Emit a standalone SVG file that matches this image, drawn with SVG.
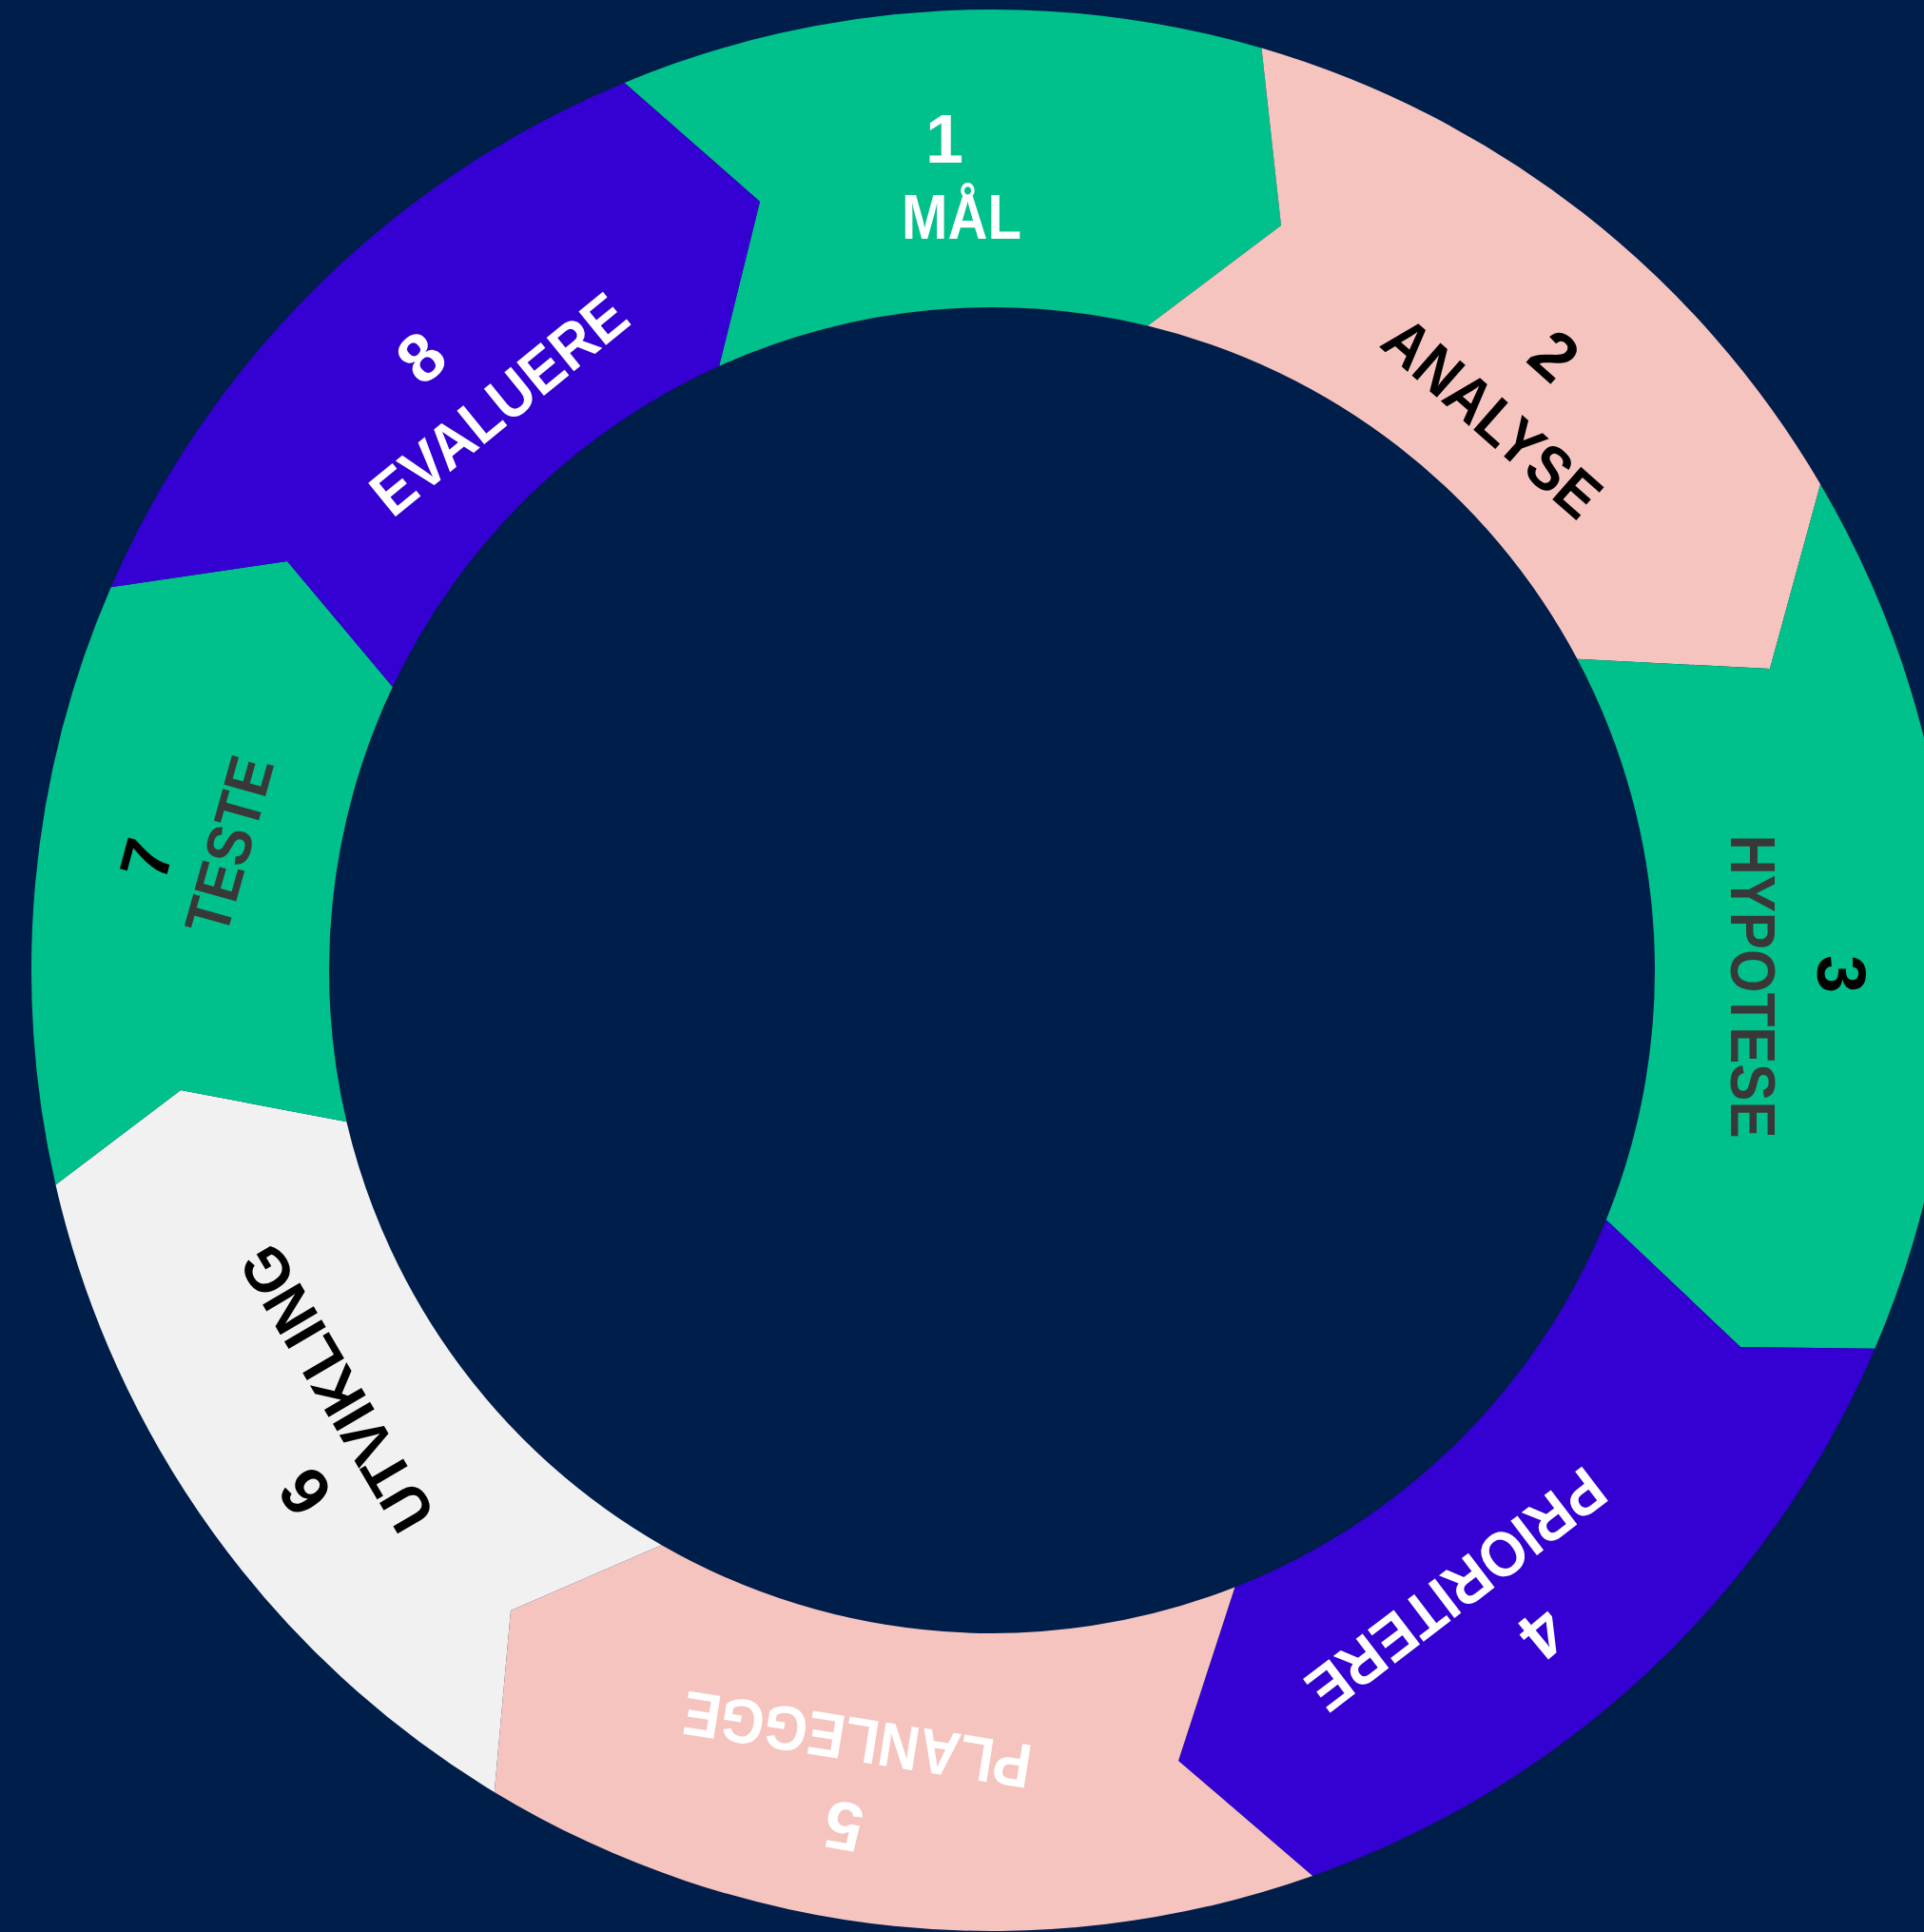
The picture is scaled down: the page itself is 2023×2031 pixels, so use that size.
<svg xmlns="http://www.w3.org/2000/svg" width="2023" height="2031" viewBox="0 0 2023 2031">
<style>
.green{fill:#00C18B}
.pink{fill:#F6C4BE}
.purple{fill:#3500D2}
.light{fill:#F1F1F1}
text{font-family:"Liberation Sans",Arial,sans-serif;font-weight:bold;text-anchor:middle}
.num{font-size:72px}
.name{font-size:66px}
.w{fill:#FFFFFF}
.k{fill:#000000}
.g{fill:#383838}
</style>
<rect width="2023" height="2031" fill="#001E4A"/>
<g id="connectors"/>
<g id="node-1">
<path class="green" d="M656.5,86.9 A1010,1010 0 0 1 1326.5,50.6 L1347,237 L1206.9,342.5 A697,697 0 0 0 756.2,384.8 L799,212 Z"/>
<text class="num w" transform="translate(993,145)" y="26">1</text>
<text class="name w" transform="translate(1011,227)" y="24" textLength="126" lengthAdjust="spacingAndGlyphs">MÅL</text>
</g>
<g id="node-2">
<path class="pink" d="M1326.5,50.6 A1010,1010 0 0 1 1914.1,508.9 L1861,703 L1658.4,692.8 A697,697 0 0 0 1206.9,342.5 L1347,237 Z"/>
<text class="num k" transform="translate(1635,373) rotate(42)" y="26">2</text>
<text class="name k" transform="translate(1570,438) rotate(41.4)" y="24" textLength="280" lengthAdjust="spacingAndGlyphs">ANALYSE</text>
</g>
<g id="node-3">
<path class="green" d="M1914.1,508.9 A1010,1010 0 0 1 1971.3,1417.8 L1830,1416 L1688.8,1282.2 A697,697 0 0 0 1658.4,692.8 L1861,703 Z"/>
<text class="num k" transform="translate(1937,1024) rotate(90)" y="26">3</text>
<text class="name g" transform="translate(1844,1037) rotate(90)" y="24" textLength="319" lengthAdjust="spacingAndGlyphs">HYPOTESE</text>
</g>
<g id="node-4">
<path class="purple" d="M1971.3,1417.8 A1010,1010 0 0 1 1380.1,1972 L1239,1851 L1298.4,1668.5 A697,697 0 0 0 1688.8,1282.2 L1830,1416 Z"/>
<text class="num w" transform="translate(1623,1718) rotate(140)" y="26">4</text>
<text class="name w" transform="translate(1532,1672) rotate(142.7)" y="24" textLength="375" lengthAdjust="spacingAndGlyphs">PRIORITERE</text>
</g>
<g id="node-5">
<path class="pink" d="M1380.1,1972 A1010,1010 0 0 1 519.8,1883.9 L537,1693 L695.6,1624.2 A697,697 0 0 0 1298.4,1668.5 L1239,1851 Z"/>
<text class="num w" transform="translate(887,1921) rotate(190)" y="26">5</text>
<text class="name w" transform="translate(901,1830) rotate(189)" y="24" textLength="370" lengthAdjust="spacingAndGlyphs">PLANLEGGE</text>
</g>
<g id="node-6">
<path class="light" d="M519.8,1883.9 A1010,1010 0 0 1 58.5,1245.5 L190,1146 L364.4,1179.2 A697,697 0 0 0 695.6,1624.2 L537,1693 Z"/>
<text class="num k" transform="translate(320,1569) rotate(233)" y="26">6</text>
<text class="name k" transform="translate(353,1460) rotate(239.5)" y="24" textLength="336" lengthAdjust="spacingAndGlyphs">UTVIKLING</text>
</g>
<g id="node-7">
<path class="green" d="M58.5,1245.5 A1010,1010 0 0 1 116.7,617.3 L302,590 L412.8,722.1 A697,697 0 0 0 364.4,1179.2 L190,1146 Z"/>
<text class="num k" transform="translate(153,903) rotate(285)" y="26">7</text>
<text class="name g" transform="translate(240,888) rotate(285.6)" y="24" textLength="190" lengthAdjust="spacingAndGlyphs">TESTE</text>
</g>
<g id="node-8">
<path class="purple" d="M116.7,617.3 A1010,1010 0 0 1 656.5,86.9 L799,212 L756.2,384.8 A697,697 0 0 0 412.8,722.1 L302,590 Z"/>
<text class="num w" transform="translate(442,375) rotate(318)" y="26">8</text>
<text class="name w" transform="translate(524,424) rotate(320.8)" y="24" textLength="326" lengthAdjust="spacingAndGlyphs">EVALUERE</text>
</g>
</svg>
